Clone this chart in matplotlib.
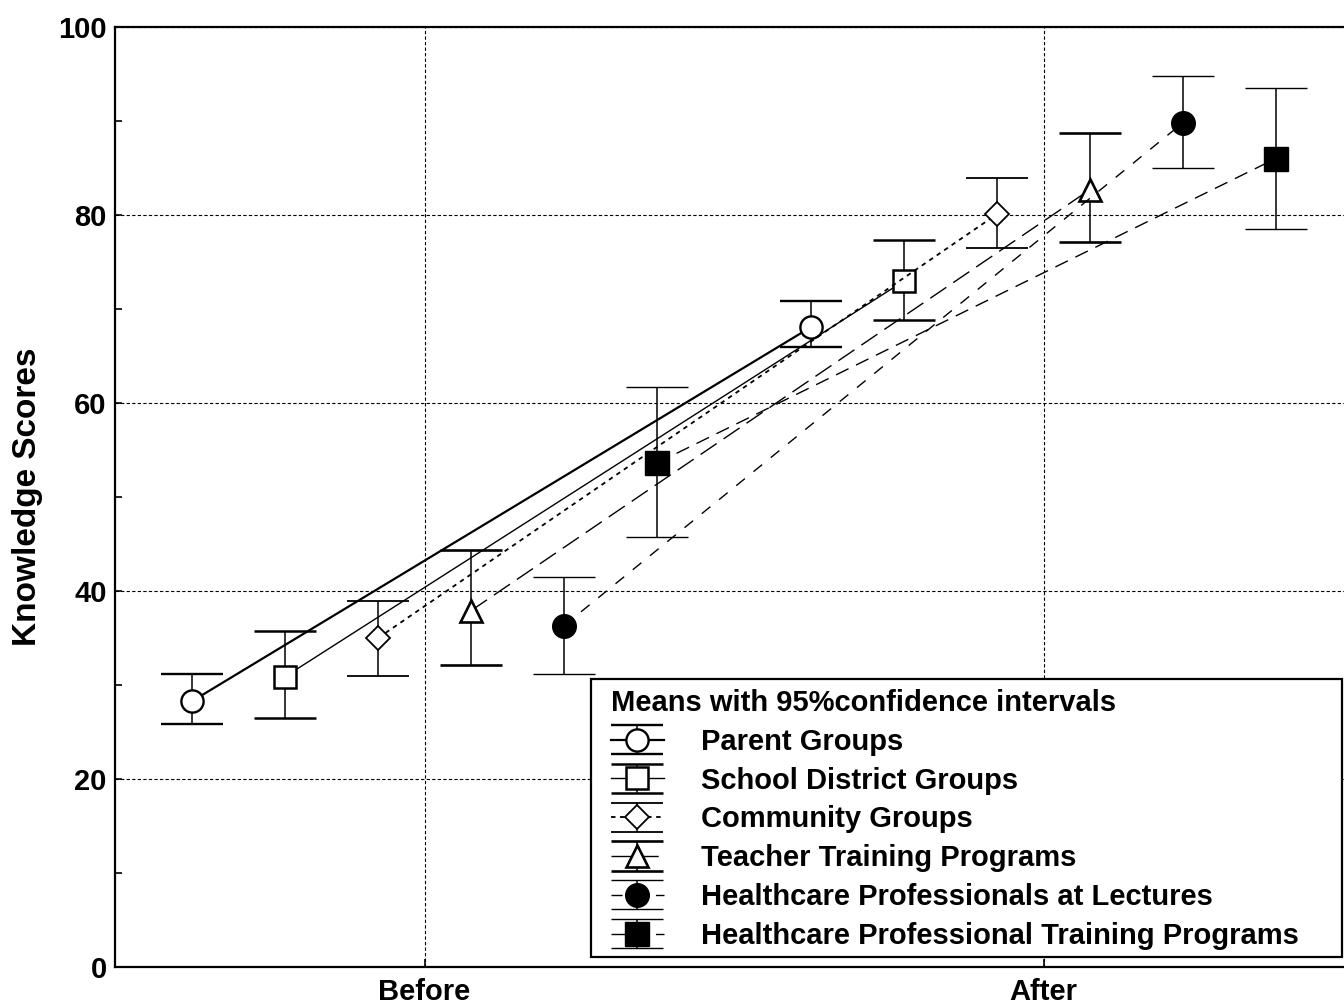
import matplotlib
matplotlib.use("Agg")
import matplotlib.pyplot as plt
from matplotlib.legend_handler import HandlerErrorbar
from matplotlib.container import ErrorbarContainer
from matplotlib.lines import Line2D
from matplotlib.patches import Rectangle
from matplotlib.ticker import MultipleLocator

# ---- data ----
categories = ["Before", "After"]
groups = ["Parent Groups", "School District Groups", "Community Groups",
          "Teacher Training Programs", "Healthcare Professionals at Lectures",
          "Healthcare Professional Training Programs"]
means_before = [28.3, 30.9, 35.0, 37.9, 36.3, 53.6]
means_after = [68.1, 73.0, 80.1, 82.7, 89.8, 86.0]
ci_low_before = [25.9, 26.5, 31.0, 32.1, 31.2, 45.7]
ci_high_before = [31.2, 35.7, 38.9, 44.4, 41.5, 61.7]
ci_low_after = [66.0, 68.8, 76.5, 77.1, 85.0, 78.5]
ci_high_after = [70.9, 77.3, 83.9, 88.7, 94.8, 93.5]
offsets = [-0.375, -0.225, -0.075, 0.075, 0.225, 0.375]

# ---- styles ----
markers = ["o", "s", "D", "^", "o", "s"]
msizes = [16, 16, 12.5, 16.5, 17, 17]
mews = [1.7, 1.8, 1.3, 1.9, 1.0, 1.0]
mfcs = ["white", "white", "white", "white", "black", "black"]
lstyles = ["-", "-", (0, (2.5, 2.5)), (0, (14, 6)), (0, (8, 8)), (0, (10, 6))]
lwidths = [1.6, 1.0, 1.3, 1.0, 1.0, 1.0]

plt.rcParams["font.family"] = ["Liberation Sans", "DejaVu Sans"]
plt.rcParams["font.weight"] = "bold"

FS = 21

fig = plt.figure(figsize=(13.44, 10.06), dpi=100)
ax = fig.add_axes([115 / 1344, 1 - 967 / 1006, 1238 / 1344, 940 / 1006])

for i, g in enumerate(groups):
    xs = [0 + offsets[i], 1 + offsets[i]]
    ys = [means_before[i], means_after[i]]
    yerr = [[means_before[i] - ci_low_before[i], means_after[i] - ci_low_after[i]],
            [ci_high_before[i] - means_before[i], ci_high_after[i] - means_after[i]]]
    ax.errorbar(xs, ys, yerr=yerr, color="black", linestyle=lstyles[i],
                linewidth=lwidths[i], marker=markers[i], markersize=msizes[i],
                markerfacecolor=mfcs[i], markeredgecolor="black",
                markeredgewidth=mews[i], ecolor="black", elinewidth=1.1,
                capsize=22, capthick=1.6, label=g, zorder=3)

ax.set_xlim(-0.5, 1.5)
ax.set_ylim(0, 100)
ax.set_xticks([0, 1])
ax.set_xticklabels(categories, fontsize=FS, fontweight="bold")
ax.yaxis.set_major_locator(MultipleLocator(20))
ax.yaxis.set_minor_locator(MultipleLocator(10))
ax.tick_params(axis="y", which="major", direction="in", length=5, width=1.2,
               labelsize=FS, pad=6)
ax.tick_params(axis="y", which="minor", direction="in", length=5, width=1.2)
ax.tick_params(axis="x", which="major", direction="in", length=6, width=1.2,
               labelsize=FS, pad=8)
for lab in ax.get_yticklabels():
    lab.set_fontweight("bold")

ax.grid(True, which="major", color="black", linestyle=(0, (3, 2)), linewidth=0.8)
ax.set_axisbelow(True)
for sp in ax.spines.values():
    sp.set_linewidth(1.6)

ax.set_ylabel("Knowledge Scores", fontsize=24, fontweight="bold")
ax.yaxis.set_label_coords(-0.058, 0.5)

# legend frame (drawn separately for asymmetric padding)
fx0, fx1 = (591 - 115) / 1238, (1342 - 115) / 1238
fy0, fy1 = (967 - 957) / 940, (967 - 679) / 940
frame = Rectangle((fx0, fy0), fx1 - fx0, fy1 - fy0, transform=ax.transAxes,
                  facecolor="white", edgecolor="black", linewidth=1.6, zorder=6)
ax.add_patch(frame)


def cap_update(legend_handle, orig_handle):
    legend_handle.update_from(orig_handle)
    if isinstance(legend_handle, Line2D) and isinstance(orig_handle, Line2D):
        if orig_handle.get_marker() == "_":
            legend_handle.set_markersize(37)


handler = HandlerErrorbar(yerr_size=0.5, update_func=cap_update)
leg = ax.legend(loc="upper left",
                bbox_to_anchor=((611 - 115) / 1238, (967 - 689) / 940),
                borderaxespad=0, fontsize=FS, title="Means with 95%confidence intervals",
                title_fontproperties={"size": FS, "weight": "bold"},
                alignment="left", frameon=False, handlelength=1.8,
                handletextpad=1.3, labelspacing=0.37, borderpad=0,
                numpoints=1, handler_map={ErrorbarContainer: handler})
leg.set_zorder(7)
for t in leg.get_texts():
    t.set_fontweight("bold")

fig.savefig("out.png", dpi=100)
